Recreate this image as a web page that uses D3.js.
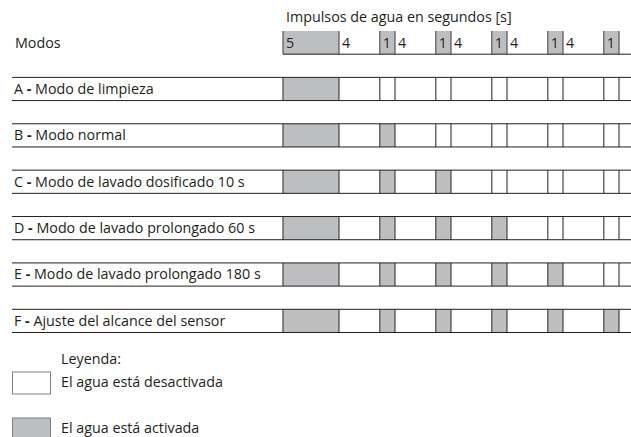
<!DOCTYPE html>
<html>
<head>
<meta charset="utf-8">
<script src="https://cdn.jsdelivr.net/npm/d3@7"></script>
<style>
  body { margin: 0; background: #fff; }
  svg text { font-family: "Open Sans", "Noto Sans", sans-serif; fill: #231f20; }
</style>
</head>
<body>
<div id="chart"></div>
<script>
// pulse sequence (seconds) shown in the header
const pulses = [5, 4, 1, 4, 1, 4, 1, 4, 1, 4, 1];

const modeLetters = ['A', 'B', 'C', 'D', 'E', 'F'];
const modeNames = [
  'Modo de limpieza',
  'Modo normal',
  'Modo de lavado dosificado 10 s',
  'Modo de lavado prolongado 60 s',
  'Modo de lavado prolongado 180 s',
  'Ajuste del alcance del sensor'
];

// 1 = water on, 0 = water off, one entry per pulse
const modeA = [1, 0, 0, 0, 0, 0, 0, 0, 0, 0, 0];
const modeB = [1, 0, 1, 0, 0, 0, 0, 0, 0, 0, 0];
const modeC = [1, 0, 1, 0, 1, 0, 0, 0, 0, 0, 0];
const modeD = [1, 0, 1, 0, 1, 0, 1, 0, 0, 0, 0];
const modeE = [1, 0, 1, 0, 1, 0, 1, 0, 1, 0, 0];
const modeF = [1, 0, 1, 0, 1, 0, 1, 0, 1, 0, 1];
const modeStates = [modeA, modeB, modeC, modeD, modeE, modeF];

const headerState = pulses.map(p => p === 4 ? 0 : 1);

const title = 'Impulsos de agua en segundos [s]';
const headerLabel = 'Modos';
const legendTitle = 'Leyenda:';
const legendItems = ['El agua está desactivada', 'El agua está activada'];

const width = 631;
const height = 437;
const gray = '#bcbec0';
const ink = '#231f20';
const fontSize = 14.3;

const svg = d3.select('#chart').append('svg')
    .attr('width', width)
    .attr('height', height);

// cell widths are not proportional in the original drawing
const cellWidth = d3.scaleOrdinal()
    .domain([1, 4, 5])
    .range([15.2, 40.8, 56]);

const gridLeft = 283;
const cells = [];
let acc = gridLeft;
pulses.forEach((p, i) => {
  cells.push({p, i, x0: acc, x1: acc + cellWidth(p)});
  acc += cellWidth(p);
});
const gridEnd = acc;

const rows = ['header'].concat(modeLetters);
const y = d3.scaleBand()
    .domain(rows)
    .range([31, 332.5])
    .paddingInner(0.5)
    .paddingOuter(0);

// title
svg.append('text')
    .attr('x', 286)
    .attr('y', 22)
    .attr('font-size', fontSize)
    .text(title);

svg.append('text')
    .attr('x', 15)
    .attr('y', 48)
    .attr('font-size', fontSize)
    .text(headerLabel);

// header row
const header = svg.append('g').attr('id', 'header');
const hy = y('header');
const hh = y.bandwidth();

header.selectAll('rect')
  .data(cells.filter(c => headerState[c.i]))
  .join('rect')
    .attr('x', d => d.x0)
    .attr('y', hy)
    .attr('width', d => d.x1 - d.x0)
    .attr('height', hh)
    .attr('fill', gray);

header.selectAll('line.v')
  .data(cells.map(c => c.x0).concat([gridEnd]))
  .join('line')
    .attr('class', 'v')
    .attr('x1', d => d).attr('x2', d => d)
    .attr('y1', hy).attr('y2', hy + hh)
    .attr('stroke', '#555')
    .attr('stroke-width', 1.2);

header.append('line')
    .attr('x1', gridLeft).attr('x2', width)
    .attr('y1', hy + hh).attr('y2', hy + hh)
    .attr('stroke', ink)
    .attr('stroke-width', 1);

header.selectAll('text')
  .data(cells)
  .join('text')
    .attr('x', d => d.x0 + 3)
    .attr('y', hy + 17)
    .attr('font-size', fontSize)
    .text(d => d.p);

// mode rows
const modeRows = svg.append('g').attr('id', 'modes')
  .selectAll('g')
  .data(modeLetters.map((l, i) => ({letter: l, name: modeNames[i], states: modeStates[i]})))
  .join('g')
    .attr('transform', d => `translate(0,${y(d.letter)})`);

modeRows.selectAll('rect')
  .data(d => cells.filter(c => d.states[c.i]))
  .join('rect')
    .attr('x', c => c.x0)
    .attr('y', 0)
    .attr('width', c => c.x1 - c.x0)
    .attr('height', hh)
    .attr('fill', gray);

modeRows.selectAll('line.v')
  .data(cells.map(c => c.x0).concat([gridEnd]))
  .join('line')
    .attr('class', 'v')
    .attr('x1', d => d).attr('x2', d => d)
    .attr('y1', 0).attr('y2', hh)
    .attr('stroke', '#444')
    .attr('stroke-width', 1.2);

modeRows.selectAll('line.h')
  .data([0, hh])
  .join('line')
    .attr('class', 'h')
    .attr('x1', 12).attr('x2', width)
    .attr('y1', d => d).attr('y2', d => d)
    .attr('stroke', ink)
    .attr('stroke-width', 1);

modeRows.append('text')
    .attr('x', 14)
    .attr('y', 16.5)
    .attr('font-size', fontSize)
    .call(t => t.append('tspan').text(d => d.letter + ' '))
    .call(t => t.append('tspan').attr('font-weight', 'bold').text('-'))
    .call(t => t.append('tspan').text(d => ' ' + d.name));

// legend
const legend = svg.append('g').attr('id', 'legend');
legend.append('text')
    .attr('x', 61)
    .attr('y', 364)
    .attr('font-size', fontSize)
    .text(legendTitle);

const legendY = d3.scalePoint()
    .domain(legendItems)
    .range([372, 418]);

legend.selectAll('rect')
  .data(legendItems)
  .join('rect')
    .attr('x', 12.5)
    .attr('y', d => legendY(d))
    .attr('width', 38)
    .attr('height', 22)
    .attr('fill', (d, i) => i ? gray : '#fff')
    .attr('stroke', '#808080')
    .attr('stroke-width', 1);

legend.selectAll('text.item')
  .data(legendItems)
  .join('text')
    .attr('class', 'item')
    .attr('x', 61)
    .attr('y', d => legendY(d) + 15)
    .attr('font-size', fontSize)
    .text(d => d);
</script>
</body>
</html>
